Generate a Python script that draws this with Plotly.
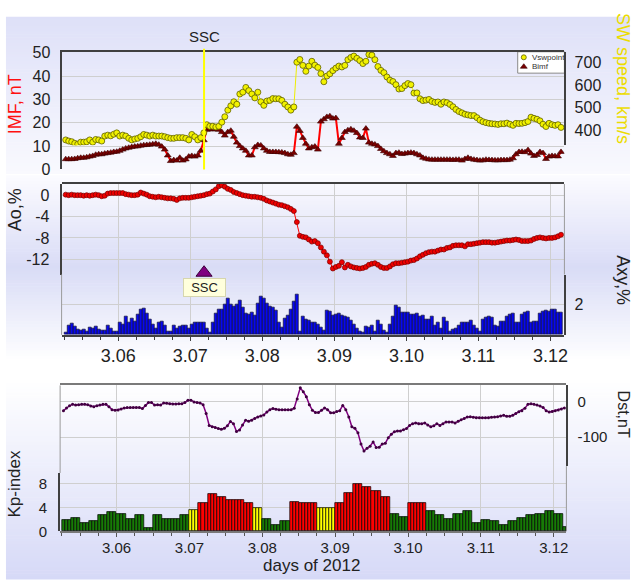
import numpy as np
import pandas as pd
import plotly.graph_objects as go

# ---------------------------------------------------------------------------
# Hourly data, first sample 2012-03-05 06:30 UT
# ---------------------------------------------------------------------------
bimf = [
    4.4, 4.4, 4.4, 4.5, 4.8, 5.0, 5.0, 5.2, 5.5, 5.8,
    6.3, 6.5, 6.5, 6.8, 7.0, 7.2, 7.5, 7.6, 8.0, 8.5,
    9.0, 9.3, 9.6, 9.8, 9.9, 10.2, 10.4, 10.5, 10.6, 10.8,
    11.0, 10.6, 9.8, 8.5, 6.0, 3.6, 4.0, 3.8, 5.0, 3.8,
    4.3, 5.5, 5.8, 5.5, 6.0, 8.0, 12.5, 17.0, 17.2, 17.2,
    17.2, 17.0, 16.0, 14.5, 16.0, 16.6, 14.0, 11.5, 10.0, 9.0,
    8.0, 6.0, 6.0, 9.5, 10.5, 10.3, 9.0, 8.0, 7.5, 7.5,
    7.5, 7.4, 7.3, 7.0, 6.5, 6.3, 7.0, 18.3, 16.5, 13.5,
    11.0, 9.0, 9.5, 9.8, 8.5, 20.5, 21.5, 22.5, 22.8, 21.8,
    22.0, 11.0, 13.5, 16.0, 16.8, 17.2, 16.6, 15.6, 13.7, 13.5,
    17.5, 11.5, 11.0, 10.7, 10.0, 8.8, 7.8, 7.0, 6.5, 5.8,
    7.0, 7.2, 6.6, 6.8, 7.0, 7.2, 7.0, 6.5, 6.0, 5.0,
    4.6, 4.3, 4.2, 4.2, 4.2, 4.2, 4.2, 4.2, 4.2, 4.1,
    4.2, 4.2, 3.8, 4.5, 5.0, 4.5, 4.2, 4.0, 3.8, 3.9,
    4.2, 4.1, 4.0, 3.9, 3.9, 4.0, 4.0, 4.0, 4.2, 4.8,
    6.5, 7.5, 7.6, 7.4, 8.3, 6.8, 5.8, 6.2, 7.5, 7.0,
    4.5, 5.5, 5.8, 5.7, 5.6, 7.5,
]

vsw = [
    359, 354, 351, 344, 340, 349, 349, 351, 359, 349,
    361, 359, 354, 376, 380, 377, 384, 390, 376, 380,
    376, 366, 359, 363, 366, 373, 383, 380, 376, 380,
    376, 376, 376, 373, 369, 366, 366, 369, 369, 369,
    366, 359, 383, 373, 359, 369, 390, 426, 419, 419,
    416, 419, 437, 461, 490, 509, 527, 516, 561, 569,
    590, 576, 561, 544, 569, 527, 511, 530, 533, 541,
    540, 540, 533, 516, 504, 490, 504, 701, 713, 687,
    661, 684, 705, 688, 678, 651, 615, 640, 650, 664,
    675, 684, 680, 687, 712, 722, 728, 718, 708, 695,
    705, 735, 732, 712, 682, 665, 655, 636, 622, 616,
    602, 583, 585, 598, 607, 602, 565, 566, 540, 532,
    534, 537, 528, 524, 526, 516, 526, 523, 515, 505,
    493, 484, 478, 472, 469, 466, 466, 457, 446, 439,
    435, 432, 430, 429, 427, 430, 430, 433, 428, 423,
    432, 431, 432, 435, 440, 459, 454, 450, 443, 428,
    418, 432, 426, 423, 426, 414,
]

ao = [
    0.2, 0.1, 0.2, 0.1, 0.1, 0.1, 0.0, 0.1, 0.0, 0.1,
    0.2, 0.1, -0.1, 0.0, 0.4, 0.5, 0.5, 0.5, 0.5, 0.5,
    0.3, 0.2, 0.1, 0.1, 0.2, 0.6, 0.4, 0.2, -0.1, -0.2,
    -0.3, -0.2, -0.3, -0.4, -0.5, -0.5, -0.6, -0.8, -0.5, -0.4,
    -0.4, -0.4, -0.3, -0.2, -0.1, 0.0, 0.1, 0.3, 0.4, 0.8,
    1.2, 1.8, 2.0, 1.7, 1.3, 1.1, 0.7, 0.5, 0.3, 0.1,
    0.0, -0.1, -0.2, -0.2, -0.3, -0.4, -0.6, -0.9, -1.1, -1.3,
    -1.5, -1.7, -1.8, -2.0, -2.2, -2.5, -2.9, -5.0, -7.6, -7.8,
    -7.9, -8.3, -8.7, -8.6, -9.0, -9.8, -10.6, -11.3, -12.5, -13.8,
    -13.5, -13.3, -12.6, -13.6, -13.1, -13.4, -13.6, -13.7, -13.8, -13.7,
    -13.5, -13.1, -12.9, -12.8, -13.1, -13.5, -13.7, -13.7, -13.4, -13.0,
    -12.8, -12.8, -12.7, -12.6, -12.5, -12.3, -12.2, -11.9, -11.5, -11.2,
    -10.9, -10.7, -10.6, -10.6, -10.4, -10.2, -10.2, -9.9, -9.8, -9.5,
    -9.4, -9.4, -9.4, -9.6, -9.2, -9.2, -9.1, -9.0, -8.9, -8.8,
    -8.8, -8.8, -8.9, -8.9, -8.8, -8.7, -8.6, -8.5, -8.5, -8.4,
    -8.3, -8.4, -8.6, -8.6, -8.6, -8.5, -8.2, -8.0, -7.9, -8.0,
    -8.1, -8.0, -8.0, -7.9, -7.7, -7.4,
]

axy = [
    0.15, 0.6, 0.75, 0.55, 0.35, 0.3, 0.35, 0.25, 0.5, 0.4,
    0.55, 0.35, 0.3, 0.3, 0.6, 0.45, 0.2, 0.25, 0.85, 0.7,
    1.2, 0.8, 1.05, 0.9, 1.35, 1.65, 1.75, 1.4, 1.0, 0.7,
    0.4, 0.8, 0.9, 0.6, 0.25, 0.2, 0.65, 0.45, 0.55, 0.6,
    0.6, 0.45, 0.7, 0.85, 0.8, 0.85, 0.8, 0.45, 0.15, 0.85,
    1.4, 1.7, 1.65, 2.0, 2.4, 2.0, 1.9, 2.0, 2.3, 1.8,
    1.4, 1.35, 1.5, 1.3, 2.1, 2.55, 2.4, 2.1, 1.9, 1.8,
    1.6, 0.8, 0.5, 1.1, 1.3, 1.7, 2.2, 2.7, 0.25, 1.2,
    1.0, 0.95, 0.85, 0.85, 0.7, 0.5, 0.3, 1.6, 1.55, 1.3,
    1.35, 1.4, 1.3, 1.2, 1.15, 0.95, 0.7, 0.45, 0.25, 0.15,
    0.55, 0.5, 0.65, 0.2, 0.95, 0.7, 0.3, 0.15, 0.7, 1.2,
    1.95, 1.8, 1.5, 1.45, 1.5, 1.35, 1.35, 1.4, 1.2, 1.3,
    1.0, 1.0, 1.2, 0.65, 0.85, 0.45, 1.15, 0.9, 0.25, 0.35,
    0.45, 0.65, 0.8, 0.8, 0.85, 0.95, 0.65, 0.45, 0.25, 1.0,
    1.15, 1.2, 1.15, 0.65, 0.55, 0.9, 0.9, 1.2, 1.35, 1.4,
    0.8, 0.85, 1.35, 1.5, 1.55, 0.8, 0.9, 0.9, 1.4, 1.55,
    1.6, 1.55, 1.65, 1.7, 1.5, 1.5,
]

dst = [
    -25, -17, -11, -7, -9, -8, -7, -7, -8, -12,
    -14, -11, -9, -7, -7, -14, -22, -24, -23, -20,
    -17, -16, -16, -16, -16, -16, -19, -10, -2, -2,
    -9, -8, -9, -3, -4, -5, -6, -6, -5, -5,
    -2, 5, 5, 0, -2, -3, -8, -33, -67, -71,
    -73, -76, -78, -75, -68, -56, -62, -84, -80, -66,
    -52, -55, -52, -47, -43, -40, -37, -29, -22, -19,
    -21, -22, -22, -22, -22, -22, -18, 8, 40, 29,
    15, -8, -24, -30, -30, -24, -17, -22, -31, -31,
    -27, -25, -10, -22, -43, -71, -75, -88, -120, -140,
    -132, -126, -114, -130, -129, -120, -118, -102, -92, -85,
    -83, -83, -79, -76, -67, -62, -60, -62, -62, -60,
    -66, -71, -68, -62, -67, -62, -57, -57, -57, -60,
    -55, -51, -47, -43, -42, -44, -45, -45, -45, -45,
    -45, -44, -43, -42, -40, -38, -41, -41, -38, -33,
    -28, -25, -18, -7, -5, -7, -9, -12, -16, -25,
    -29, -27, -25, -23, -20, -17,
]

# 3-hour Kp index, first interval 2012-03-05 06-09 UT
kp_3h = [
    1.9, 2.3, 1.4, 1.7, 2.7, 3.3,
    3.0, 2.0, 2.8, 0.6, 2.8, 2.0, 2.0, 2.8,
    3.6, 4.7, 6.2, 5.7, 5.3, 5.3, 4.7, 4.0,
    2.0, 1.1, 1.7, 5.0, 4.7, 4.7, 4.0, 4.0,
    4.7, 6.4, 8.0, 7.4, 6.7, 5.7, 3.0, 2.4,
    4.7, 4.7, 3.4, 2.8, 2.1, 3.0, 3.4, 1.4,
    1.9, 1.7, 1.0, 1.7, 2.3, 2.8, 2.9, 3.4,
    3.0, 0.8,
]

# axis tick values and their labels (plain hyphen as minus sign)
ao_ticks = [0, -4, -8, -12]
dst_ticks = [0, -100]

ssc_time = "2012-03-07 04:35"
day_ticks = pd.date_range("2012-03-06", "2012-03-12", freq="D")

t = pd.date_range("2012-03-05 06:30", periods=len(bimf), freq="h")
t_kp = pd.date_range("2012-03-05 06:30", periods=len(kp_3h) * 3, freq="h")
kp_hourly = np.repeat(kp_3h, 3)


def kp_color(v):
    if v >= 4.5:
        return "#ff0000"
    if v >= 3.5:
        return "#ffff00"
    return "#177a06"


kp_colors = [kp_color(v) for v in kp_hourly]

# ---------------------------------------------------------------------------
# Page geometry helpers (pixels -> paper)
# ---------------------------------------------------------------------------
W, H = 634, 588
FONT = "Liberation Sans, Arial, sans-serif"
AX_DARK = "#404040"
GRID = "#cfcfcf"
HOUR = 3600 * 1000


def px(x):
    return x / W


def py(y):
    return 1 - y / H


def gradient(x0, x1, y0, y1, stops, step=3):
    out = []
    y = y0
    while y < y1:
        yb = min(y + step, y1)
        f = ((y + yb) / 2 - y0) / (y1 - y0)
        col = stops[-1][1]
        for (fa, ca), (fb, cb) in zip(stops[:-1], stops[1:]):
            if fa <= f <= fb:
                u = (f - fa) / (fb - fa)
                col = tuple(round(a + (b - a) * u) for a, b in zip(ca, cb))
                break
        out.append(dict(type="rect", xref="paper", yref="paper", layer="below",
                        x0=px(x0), x1=px(x1), y0=py(yb + 0.6), y1=py(y),
                        fillcolor="rgb(%d,%d,%d)" % col, line=dict(width=0)))
        y = yb
    return out


range12 = ["2012-03-05 05:08", "2012-03-12 04:38"]
range3 = ["2012-03-05 05:24", "2012-03-12 04:10"]

fig = go.Figure()

# ---- panel 1: IMF magnitude and solar wind speed ----
fig.add_trace(go.Scatter(
    x=t, y=bimf, xaxis="x", yaxis="y", mode="lines+markers", name="Bimf",
    line=dict(color="#ff0000", width=2),
    marker=dict(symbol="triangle-up", size=6, color="#7a0000",
                line=dict(color="#3a0000", width=0.6)),
    showlegend=False, hoverinfo="skip"))
fig.add_trace(go.Scatter(
    x=t, y=vsw, xaxis="x", yaxis="y2", mode="lines+markers", name="Vswpoint",
    line=dict(color="#eeee00", width=1),
    marker=dict(symbol="circle", size=6, color="#f2f200",
                line=dict(color="#5f5f00", width=0.8)),
    showlegend=False, hoverinfo="skip"))

# ---- panel 2: frame holder, Ao and Axy ----
fig.add_trace(go.Scatter(x=[t[0]], y=[0.5], xaxis="x2", yaxis="y3", mode="markers",
                         marker=dict(opacity=0), showlegend=False, hoverinfo="skip"))
fig.add_trace(go.Scatter(
    x=t, y=ao, xaxis="x2", yaxis="y4", mode="lines+markers", name="Ao",
    line=dict(color="#ff0000", width=1),
    marker=dict(symbol="circle", size=5, color="#ee0000",
                line=dict(color="#7a0000", width=0.7)),
    showlegend=False, hoverinfo="skip"))
fig.add_trace(go.Bar(
    x=t, y=axy, xaxis="x2", yaxis="y5", name="Axy", width=HOUR,
    marker=dict(color="#0808ee", line=dict(color="#101030", width=0.7)),
    showlegend=False, hoverinfo="skip"))
fig.add_trace(go.Scatter(
    x=[ssc_time], y=[-14.6], xaxis="x2", yaxis="y4", mode="markers", cliponaxis=False,
    marker=dict(symbol="triangle-up", size=14, color="#800080",
                line=dict(color="#3a003a", width=1)),
    showlegend=False, hoverinfo="skip"))

# ---- panel 3: frame holder, Dst and Kp ----
fig.add_trace(go.Scatter(x=[t[0]], y=[0.5], xaxis="x3", yaxis="y6", mode="markers",
                         marker=dict(opacity=0), showlegend=False, hoverinfo="skip"))
fig.add_trace(go.Scatter(
    x=t, y=dst, xaxis="x3", yaxis="y7", mode="lines+markers", name="Dst",
    line=dict(color="#800080", width=1.5),
    marker=dict(symbol="circle", size=3, color="#400040"),
    showlegend=False, hoverinfo="skip"))
fig.add_trace(go.Bar(
    x=t_kp, y=kp_hourly, xaxis="x3", yaxis="y8", name="Kp", width=HOUR,
    marker=dict(color=kp_colors, line=dict(color="#000000", width=0.7)),
    showlegend=False, hoverinfo="skip"))

# ---- small legend box for panel 1 ----
fig.add_trace(go.Scatter(
    x=[0.13], y=[0.74], xaxis="x4", yaxis="y9", mode="markers",
    marker=dict(symbol="circle", size=5, color="#f2f200", line=dict(color="#5f5f00", width=0.8)),
    showlegend=False, hoverinfo="skip"))
fig.add_trace(go.Scatter(
    x=[0.13], y=[0.30], xaxis="x4", yaxis="y9", mode="markers",
    marker=dict(symbol="triangle-up", size=6, color="#7a0000", line=dict(color="#3a0000", width=0.6)),
    showlegend=False, hoverinfo="skip"))

tick_font = dict(family=FONT, size=16, color="#222222")

fig.update_layout(
    width=W, height=H, autosize=False,
    margin=dict(l=0, r=0, t=0, b=0, pad=0),
    paper_bgcolor="#ffffff", plot_bgcolor="rgba(0,0,0,0)",
    hovermode=False, showlegend=False, bargap=0,
    font=dict(family=FONT, color="#222222"),

    xaxis=dict(domain=[px(62), px(568)], anchor="y", type="date", range=range12,
               side="top", showline=True, linecolor=AX_DARK, linewidth=2,
               showticklabels=False, ticks="", showgrid=False, zeroline=False),
    yaxis=dict(domain=[py(167), py(46)], anchor="x", range=[0, 50.4],
               tickvals=[0, 10, 20, 30, 40, 50], showline=True, linecolor=AX_DARK,
               linewidth=2, showgrid=True, gridcolor=GRID, zeroline=False, ticks="",
               ticklabelstandoff=6, tickfont=tick_font),
    yaxis2=dict(domain=[py(142), py(46)], anchor="x", side="right", range=[336, 747],
                tickvals=[400, 500, 600, 700], showline=True, linecolor=AX_DARK,
                linewidth=2, showgrid=False, zeroline=False, ticks="",
                ticklabelstandoff=5, tickfont=tick_font),

    xaxis2=dict(domain=[px(62), px(568)], anchor="y3", type="date", range=range12,
                tickvals=day_ticks, tickformat="%-m.%d", showline=True, mirror=True,
                linecolor=AX_DARK, linewidth=2, showgrid=True, gridcolor=GRID,
                ticks="outside", ticklen=4, tickcolor=AX_DARK, zeroline=False,
                minor=dict(dtick=6 * HOUR, tick0="2012-03-06", ticks="outside",
                           ticklen=3, tickcolor=AX_DARK, showgrid=False),
                tickfont=dict(family=FONT, size=18, color="#222222")),
    yaxis3=dict(domain=[py(337), py(182)], anchor="x2", range=[0, 1], visible=False),
    yaxis4=dict(domain=[py(275), py(182)], anchor="x2", range=[-14.94, 2.21],
                tickvals=ao_ticks, ticktext=[str(v) for v in ao_ticks],
                showline=True, linecolor=AX_DARK, linewidth=2,
                showgrid=True, gridcolor=GRID, zeroline=False, ticks="",
                ticklabelstandoff=7, tickfont=tick_font),
    yaxis5=dict(domain=[py(337), py(275)], anchor="x2", side="right", range=[0, 4.0],
                tickvals=[2], showline=True, linecolor=AX_DARK, linewidth=2,
                showgrid=True, gridcolor=GRID, zeroline=False, ticks="",
                ticklabelstandoff=5, tickfont=tick_font),

    xaxis3=dict(domain=[px(60.5), px(570)], anchor="y6", type="date", range=range3,
                tickvals=day_ticks, tickformat="%-m.%d", showline=True, mirror=True,
                linecolor="#7a7a7a", linewidth=1.5, showgrid=True, gridcolor=GRID,
                ticks="outside", ticklen=4, tickcolor="#555555", zeroline=False,
                ticklabelstandoff=-2,
                minor=dict(dtick=6 * HOUR, tick0="2012-03-06", ticks="outside",
                           ticklen=3, tickcolor="#555555", showgrid=False),
                tickfont=dict(family=FONT, size=15, color="#222222")),
    yaxis6=dict(domain=[py(539), py(389)], anchor="x3", range=[0, 1], visible=False),
    yaxis7=dict(domain=[py(472), py(389)], anchor="x3", side="right", range=[-183, 47],
                tickvals=dst_ticks, ticktext=[str(v) for v in dst_ticks],
                showline=True, linecolor=AX_DARK, linewidth=2,
                showgrid=True, gridcolor=GRID, zeroline=False, ticks="",
                ticklabelstandoff=6, tickfont=dict(family=FONT, size=15, color="#222222")),
    yaxis8=dict(domain=[py(539), py(479)], anchor="x3", range=[0, 9.8],
                tickvals=[0, 4, 8], showline=True, linecolor=AX_DARK, linewidth=2,
                showgrid=True, gridcolor=GRID, zeroline=False, ticks="",
                ticklabelstandoff=8, tickfont=dict(family=FONT, size=15, color="#222222")),

    xaxis4=dict(domain=[px(521), px(568)], anchor="y9", range=[0, 1], visible=False),
    yaxis9=dict(domain=[py(68), py(46)], anchor="x4", range=[0, 1], visible=False),
)

shapes = []
shapes += gradient(6, 634, 10, 171, [(0, (222, 224, 248)), (1, (249, 249, 254))])
shapes += gradient(6, 634, 173, 364, [(0, (252, 252, 255)), (0.5, (217, 220, 246)),
                                      (1, (255, 255, 255))])
shapes += gradient(6, 634, 384, 588, [(0, (255, 255, 255)), (1, (214, 217, 247))])
# legend frame
shapes.append(dict(type="rect", xref="paper", yref="paper", layer="below",
                   x0=px(521), x1=px(568), y0=py(68), y1=py(46),
                   fillcolor="#ffffff", line=dict(color="#8a8a8a", width=1)))
# lighter frame segments
for x, ya, yb in [(62, 275, 337), (568, 182, 275), (60.5, 389, 479), (570, 472, 539)]:
    shapes.append(dict(type="line", xref="paper", yref="paper", layer="above",
                       x0=px(x), x1=px(x), y0=py(yb), y1=py(ya),
                       line=dict(color="#9a9a9a", width=1)))
# SSC marker line
shapes.append(dict(type="line", xref="x", yref="paper", layer="above",
                   x0=ssc_time, x1=ssc_time, y0=py(167), y1=py(43),
                   line=dict(color="#ffff00", width=2)))
fig.update_layout(shapes=shapes)


def label(text, x, y, size, color="#222222", angle=0, **kw):
    return dict(text=text, x=px(x), y=py(y), xref="paper", yref="paper",
                showarrow=False, textangle=angle, xanchor="center", yanchor="middle",
                font=dict(family=FONT, size=size, color=color), **kw)


annotations = [
    label("IMF, nT", 15, 100, 18, "#ff1010", -90),
    label("SW speed, km/s", 627, 73, 18, "#ecdc00", 90),
    label("Ao,%", 15, 208, 18, "#222222", -90),
    label("Axy,%", 627, 281, 18, "#222222", 90),
    label("Kp-index", 15, 490, 17, "#222222", -90),
    label("Dst,nT", 627, 418, 16, "#222222", 90),
    label("days of 2012", 313, 574, 17),
    dict(text="SSC", x=ssc_time, y=py(30), xref="x", yref="paper", showarrow=False,
         xanchor="center", yanchor="middle", font=dict(family=FONT, size=15, color="#222222")),
    dict(text="SSC", x=ssc_time, y=py(288.5), xref="x2", yref="paper", showarrow=False,
         xanchor="center", yanchor="middle", bgcolor="#ffffdc", bordercolor="#d6d6ae",
         borderwidth=1, borderpad=2, width=37, height=13,
         font=dict(family=FONT, size=13, color="#222222")),
    dict(text="Vswpoint", x=0.26, y=0.74, xref="x4", yref="y9", showarrow=False,
         xanchor="left", yanchor="middle", font=dict(family=FONT, size=8, color="#333333")),
    dict(text="Bimf", x=0.26, y=0.30, xref="x4", yref="y9", showarrow=False,
         xanchor="left", yanchor="middle", font=dict(family=FONT, size=8, color="#333333")),
]
fig.update_layout(annotations=annotations)

fig.write_html("out.html")
